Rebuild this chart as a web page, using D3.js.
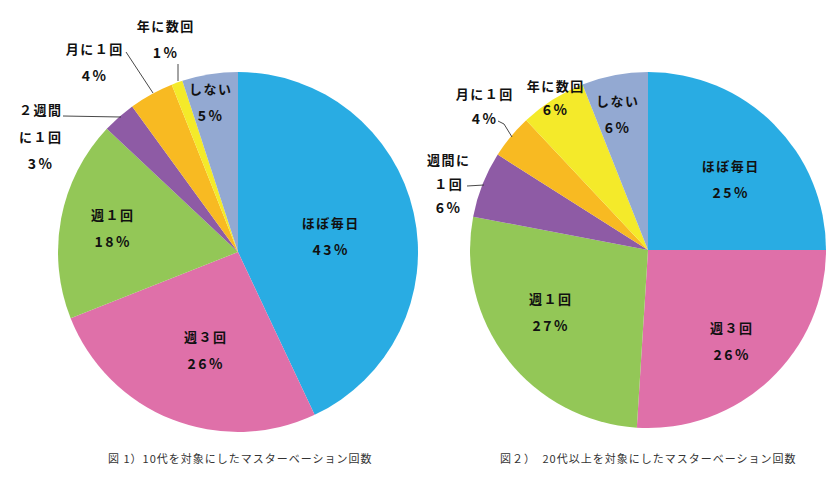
<!DOCTYPE html>
<html><head><meta charset="utf-8">
<script src="https://cdn.jsdelivr.net/npm/d3@7"></script>
<style>
html,body{margin:0;padding:0;background:#fff;}
svg{display:block;}
.lbl{font-family:"Noto Sans CJK JP","Noto Sans",sans-serif;font-weight:bold;font-size:13px;letter-spacing:1.5px;fill:#111;}
.pct{font-size:14px;letter-spacing:2.5px;}
.cap{font-family:"Noto Sans CJK JP","Noto Sans",sans-serif;font-size:11px;letter-spacing:1px;fill:#333;}
</style></head>
<body>
<script>
const categories = ["ほぼ毎日","週３回","週１回","２週間に１回","月に１回","年に数回","しない"];
const colors = ["#29ACE3","#DF70A9","#93C757","#8E5BA5","#F8BA22","#F4EA2A","#93A9D2"];
const values10s = [43,26,18,3,4,1,5];
const values20s = [25,26,27,6,4,6,6];
const caption1 = "図 1）10代を対象にしたマスターベーション回数";
const caption2 = "図２）　20代以上を対象にしたマスターベーション回数";
const labels1 = [
  {t:["ほぼ毎日","43%"], x:330, y:222},
  {t:["週３回","26%"], x:205, y:336},
  {t:["週１回","18%"], x:112, y:214},
  {t:["２週間","に１回","3%"], x:40, y:109, dy:27},
  {t:["月に１回","4%"], x:94, y:48},
  {t:["年に数回","1%"], x:165, y:25},
  {t:["しない","5%"], x:210, y:88}
];
const leaders1 = [
  [[63,116],[121,117]],
  [[126,52],[153,93]],
  [[178,64],[178,81]]
];
const labels2 = [
  {t:["ほぼ毎日","25%"], x:730, y:165},
  {t:["週３回","26%"], x:731, y:327},
  {t:["週１回","27%"], x:550, y:298},
  {t:["週間に","１回","6%"], x:448, y:159, dy:24},
  {t:["月に１回","4%"], x:484, y:93, dy:25},
  {t:["年に数回","6%"], x:555, y:85, dy:24},
  {t:["しない","6%"], x:617, y:100}
];
const leaders2 = [
  [[467,186],[484,185]],
  [[498,121],[504,124],[512,137]]
];

const W=833,H=491;
const svg=d3.select("body").append("svg").attr("width",W).attr("height",H);

function drawPie(vals, cx, cy, r){
  const pie=d3.pie().sort(null).value(d=>d);
  const arc=d3.arc().innerRadius(0).outerRadius(r);
  const g=svg.append("g").attr("transform",`translate(${cx},${cy})`);
  g.selectAll("path").data(pie(vals)).enter().append("path")
    .attr("d",arc).attr("fill",(d,i)=>colors[i]);
}
function drawLabels(labels){
  labels.forEach(l=>{
    const dy=l.dy||27;
    l.t.forEach((s,k)=>{
      const isPct=/%$/.test(s);
      svg.append("text").attr("class",isPct?"lbl pct":"lbl").attr("x",l.x+(isPct?1.2:0.7)).attr("y",l.y+k*dy)
        .attr("text-anchor","middle").attr("dominant-baseline","central").text(s);
    });
  });
}
function drawLeaders(ls){
  const line=d3.line();
  ls.forEach(p=>svg.append("path").attr("d",line(p)).attr("fill","none")
    .attr("stroke","#333").attr("stroke-width",0.9));
}
drawPie(values10s,238,252,180);
drawPie(values20s,648,250,178);
drawLeaders(leaders1);drawLeaders(leaders2);
drawLabels(labels1);drawLabels(labels2);
svg.append("text").attr("class","cap").attr("x",108).attr("y",463).text(caption1);
svg.append("text").attr("class","cap").attr("x",500).attr("y",463).text(caption2);
</script>
</body></html>
